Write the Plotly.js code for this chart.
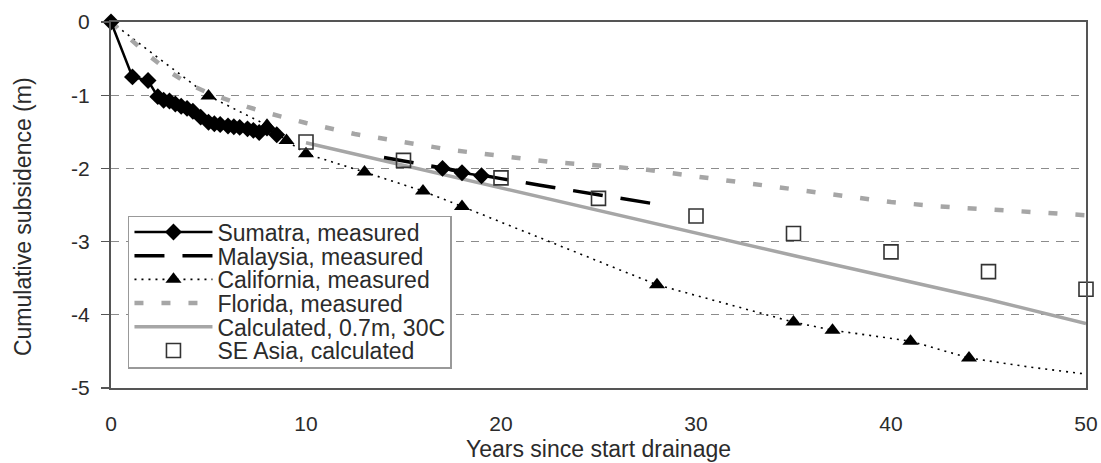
<!DOCTYPE html>
<html>
<head>
<meta charset="utf-8">
<script src="https://cdn.plot.ly/plotly-3.0.1.min.js"></script>
<style>
html,body{margin:0;padding:0;background:#fff;}
#chart{width:1101px;height:463px;}
</style>
</head>
<body>
<div id="chart"></div>
<script>
// ---- data ----
var sumatraX = [0, 1.1, 1.9, 2.4, 2.7, 3.0, 3.3, 3.6, 3.9, 4.2, 4.6, 5.0, 5.3, 5.6, 6.0, 6.3, 6.6, 7.0, 7.3, 7.6, 8.0, 8.5, null, 17, 18, 19];
var sumatraY = [0, -0.75, -0.80, -1.02, -1.07, -1.08, -1.12, -1.15, -1.18, -1.22, -1.30, -1.37, -1.39, -1.40, -1.42, -1.43, -1.44, -1.46, -1.48, -1.51, -1.45, -1.54, null, -2.00, -2.06, -2.10];

var malaysiaX = [14, 16, 18, 20, 22, 24, 26, 28];
var malaysiaY = [-1.85, -1.95, -2.05, -2.14, -2.23, -2.32, -2.40, -2.49];

var californiaX = [5, 8, 9, 10, 13, 16, 18, 28, 35, 37, 41, 44];
var californiaY = [-1.01, -1.41, -1.62, -1.80, -2.05, -2.31, -2.52, -3.59, -4.10, -4.21, -4.36, -4.59];
// dotted trend continues before first and after last measured point
var californiaTrendX = [0, 5, null, 44, 47, 50];
var californiaTrendY = [0, -1.01, null, -4.59, -4.71, -4.81];

var floridaX = [0, 1, 2, 3, 4, 5, 6, 7, 8, 9, 10, 12.5, 15, 17.5, 20, 22.5, 25, 27.5, 30, 32.5, 35, 37.5, 40, 42.5, 45, 47.5, 50];
var floridaY = [0, -0.24, -0.47, -0.68, -0.85, -0.97, -1.07, -1.16, -1.24, -1.31, -1.38, -1.53, -1.64, -1.75, -1.83, -1.91, -1.96, -2.02, -2.11, -2.20, -2.29, -2.38, -2.46, -2.52, -2.56, -2.60, -2.64];

var calcX = [10, 15, 20, 25, 30, 35, 40, 45, 50];
var calcY = [-1.65, -1.96, -2.27, -2.58, -2.89, -3.19, -3.49, -3.79, -4.12];

var seAsiaX = [10, 15, 20, 25, 30, 35, 40, 45, 50];
var seAsiaY = [-1.64, -1.89, -2.13, -2.41, -2.65, -2.89, -3.14, -3.41, -3.65];

var xTicks = [0, 10, 20, 30, 40, 50];
var yTicks = [0, -1, -2, -3, -4, -5];

var yTitle = 'Cumulative subsidence (m)';
var xTitle = 'Years since start drainage';

var FONT = 'Liberation Sans, Arial, sans-serif';
var TXT = '#2b2b2b';

var traces = [
  {x: sumatraX, y: sumatraY, name: 'Sumatra, measured', mode: 'lines+markers',
   line: {color: '#000', width: 2.5}, marker: {symbol: 'diamond', size: 13, color: '#000'},
   connectgaps: false, cliponaxis: false},
  {x: malaysiaX, y: malaysiaY, name: 'Malaysia, measured', mode: 'lines',
   line: {color: '#000', width: 3.5, dash: '30px,18px'}},
  {x: californiaX, y: californiaY, name: 'California, measured', mode: 'lines+markers',
   line: {color: '#000', width: 1.6, dash: '2px,5px'}, marker: {symbol: 'triangle-up', size: 14, color: '#000'},
   cliponaxis: false},
  {x: floridaX, y: floridaY, name: 'Florida, measured', mode: 'lines',
   line: {color: '#a6a6a6', width: 4.5, dash: '9px,18px'}},
  {x: calcX, y: calcY, name: 'Calculated, 0.7m, 30C', mode: 'lines',
   line: {color: '#a6a6a6', width: 3.5}},
  {x: seAsiaX, y: seAsiaY, name: 'SE Asia, calculated', mode: 'markers',
   marker: {symbol: 'square-open', size: 14, color: '#333', line: {width: 1.6, color: '#333'}},
   cliponaxis: false},
  {x: californiaTrendX, y: californiaTrendY, name: 'California trend', mode: 'lines', showlegend: false,
   line: {color: '#000', width: 1.6, dash: '2px,5px'}, connectgaps: false}
];
// draw the dotted trend beneath the other marks
traces = [traces[6], traces[3], traces[4], traces[1], traces[2], traces[0], traces[5]];

var layout = {
  width: 1101, height: 463,
  margin: {l: 111, r: 15, t: 22, b: 75},
  paper_bgcolor: '#fff', plot_bgcolor: '#fff',
  font: {family: FONT, size: 21, color: TXT},
  showlegend: true,
  legend: {
    x: 0.0174, y: 0.47, xanchor: 'left', yanchor: 'top',
    bgcolor: '#fff', bordercolor: '#999', borderwidth: 1.5,
    font: {family: FONT, size: 23, color: TXT},
    itemwidth: 78, traceorder: 'normal', tracegroupgap: 0
  },
  xaxis: {
    range: [0, 50], tickvals: xTicks, ticktext: xTicks.map(String),
    showgrid: false, zeroline: false, ticks: '',
    showline: true, linecolor: '#555', linewidth: 2, mirror: true,
    tickfont: {family: FONT, size: 21, color: TXT},
    ticklabelstandoff: 16,
    title: {text: xTitle, font: {family: FONT, size: 23, color: TXT}, standoff: 7}
  },
  yaxis: {
    range: [-5, 0], tickvals: yTicks, ticktext: yTicks.map(String),
    showgrid: true, gridcolor: '#8c8c8c', gridwidth: 1.3, griddash: '8px,7px',
    zeroline: false, ticks: 'outside', ticklen: 8, tickwidth: 1.3, tickcolor: '#555',
    showline: true, linecolor: '#555', linewidth: 2, mirror: true,
    tickfont: {family: FONT, size: 21, color: TXT},
    ticklabelstandoff: 7
  },
  annotations: [{
    text: yTitle, textangle: -90, showarrow: false,
    xref: 'paper', x: 0, xanchor: 'center', xshift: -88,
    yref: 'paper', y: 0.467, yanchor: 'middle',
    font: {family: FONT, size: 23, color: TXT}
  }]
};

// legend order: Sumatra, Malaysia, California, Florida, Calculated, SE Asia
var order = ['Sumatra, measured', 'Malaysia, measured', 'California, measured', 'Florida, measured', 'Calculated, 0.7m, 30C', 'SE Asia, calculated'];
traces.forEach(function (t) {
  var i = order.indexOf(t.name);
  if (i >= 0) t.legendrank = i + 1;
});

Plotly.newPlot('chart', traces, layout, {staticPlot: true, displayModeBar: false}).then(function (gd) {
  // tighten legend rows to match the reference spacing
  var items = gd.querySelectorAll('.legend .traces');
  if (items.length < 2) return;
  var ys = [];
  var xs = [];
  items.forEach(function (it) {
    var m = /translate\(([-\d.]+)[ ,]+([-\d.]+)\)/.exec(it.getAttribute('transform') || '');
    xs.push(m ? +m[1] : 0); ys.push(m ? +m[2] : 0);
  });
  var step = 23.7;
  var lift = 7;
  var oldStep = ys[1] - ys[0];
  items.forEach(function (it, i) {
    it.setAttribute('transform', 'translate(' + xs[i] + ',' + (ys[0] - lift + i * step) + ')');
  });
  var bg = gd.querySelector('.legend .bg');
  if (bg) {
    var h = +bg.getAttribute('height');
    bg.setAttribute('height', h - (items.length - 1) * (oldStep - step) - 2 * lift + 2);
  }
});
</script>
</body>
</html>
